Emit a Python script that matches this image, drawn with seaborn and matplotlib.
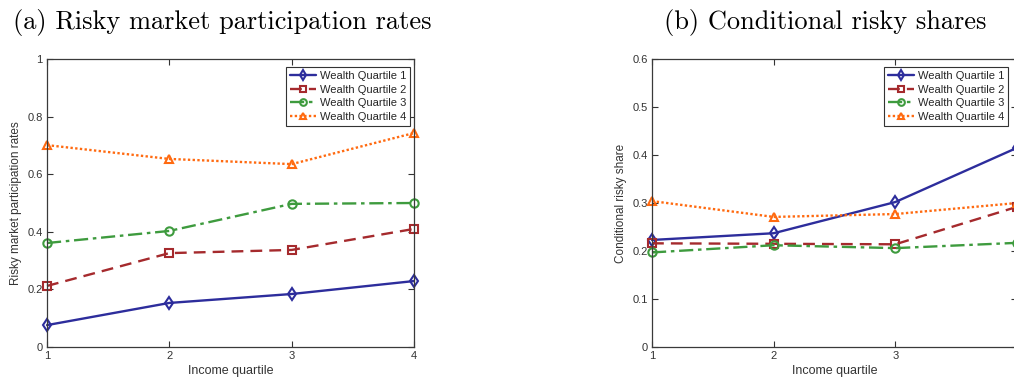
import matplotlib
matplotlib.use("Agg")
import matplotlib.pyplot as plt
import seaborn as sns
import pandas as pd

sns.set_style("ticks")
plt.rcParams['font.family'] = ['Liberation Sans', 'DejaVu Sans']

income = [1, 2, 3, 4]
series_names = ["Wealth Quartile 1", "Wealth Quartile 2", "Wealth Quartile 3", "Wealth Quartile 4"]

part_q1 = [0.076, 0.153, 0.184, 0.229]
part_q2 = [0.212, 0.326, 0.337, 0.410]
part_q3 = [0.361, 0.403, 0.497, 0.500]
part_q4 = [0.701, 0.653, 0.635, 0.743]

share_q1 = [0.223, 0.237, 0.302, 0.415]
share_q2 = [0.216, 0.215, 0.214, 0.292]
share_q3 = [0.197, 0.212, 0.206, 0.217]
share_q4 = [0.304, 0.271, 0.277, 0.300]

colors = ["#2D2D9C", "#A52A2D", "#3E9B3E", "#FF6A10"]
markers = ["d", "s", "o", "^"]
linestyles = ["-", (0, (5, 3)), (0, (6, 2, 1.5, 2)), (0, (1, 1))]

fig = plt.figure(figsize=(10.14, 3.82), dpi=100)
ax1 = fig.add_axes([47/1014, 35/382, (414-47)/1014, (347-59)/382])
ax2 = fig.add_axes([652/1014, 35/382, (1017-652)/1014, (347-59)/382])

txtc = "#333333"

def draw(ax, data, ymax, yticks, ylabel, legx, xlabels):
    for name, vals, c, m, ls in zip(series_names, data, colors, markers, linestyles):
        df = pd.DataFrame({"x": income, "y": vals})
        sns.lineplot(data=df, x="x", y="y", ax=ax, color=c, marker=m,
                     linestyle=ls, linewidth=1.7, markersize=6,
                     markerfacecolor="none", markeredgecolor=c,
                     markeredgewidth=1.5, label=name, clip_on=False)
    ax.set_xlim(1, 4)
    ax.set_ylim(0, ymax)
    ax.set_xticks(income)
    ax.set_xticklabels(xlabels)
    ax.set_yticks(yticks)
    ax.set_yticklabels([("%g" % t) for t in yticks])
    ax.tick_params(direction="in", length=4, width=0.8, colors=txtc,
                   labelsize=8, top=True, right=True, pad=3)
    for s in ax.spines.values():
        s.set_visible(True)
        s.set_color("#3a3a3a")
        s.set_linewidth(0.9)
    ax.set_xlabel("Income quartile", fontsize=9, color=txtc, labelpad=3)
    ax.set_ylabel(ylabel, fontsize=8.5, color=txtc, labelpad=4)
    leg = ax.legend(loc="upper right", bbox_to_anchor=legx, fontsize=8,
                    frameon=True, fancybox=False, handlelength=2.4,
                    borderpad=0.35, labelspacing=0.33, handletextpad=0.3,
                    borderaxespad=0.0, markerscale=0.8)
    leg.get_frame().set_edgecolor("#333333")
    leg.get_frame().set_linewidth(0.8)
    leg.get_frame().set_alpha(1)

draw(ax1, [part_q1, part_q2, part_q3, part_q4], 1,
     [0, 0.2, 0.4, 0.6, 0.8, 1], "Risky market participation rates",
     (1 - 4/367, 1 - 8/288), ["1", "2", "3", "4"])
draw(ax2, [share_q1, share_q2, share_q3, share_q4], 0.6,
     [0, 0.1, 0.2, 0.3, 0.4, 0.5, 0.6], "Conditional risky share",
     (1 - 9/365, 1 - 8/288), ["1", "2", "3", ""])

fig.text(222/1014, 1 - 23/382, "(a) Risky market participation rates",
         family="cmr10", fontsize=19, ha="center", va="center", color="black")
fig.text(825/1014, 1 - 23/382, "(b) Conditional risky shares",
         family="cmr10", fontsize=19, ha="center", va="center", color="black")

fig.savefig("out.png", dpi=100)
